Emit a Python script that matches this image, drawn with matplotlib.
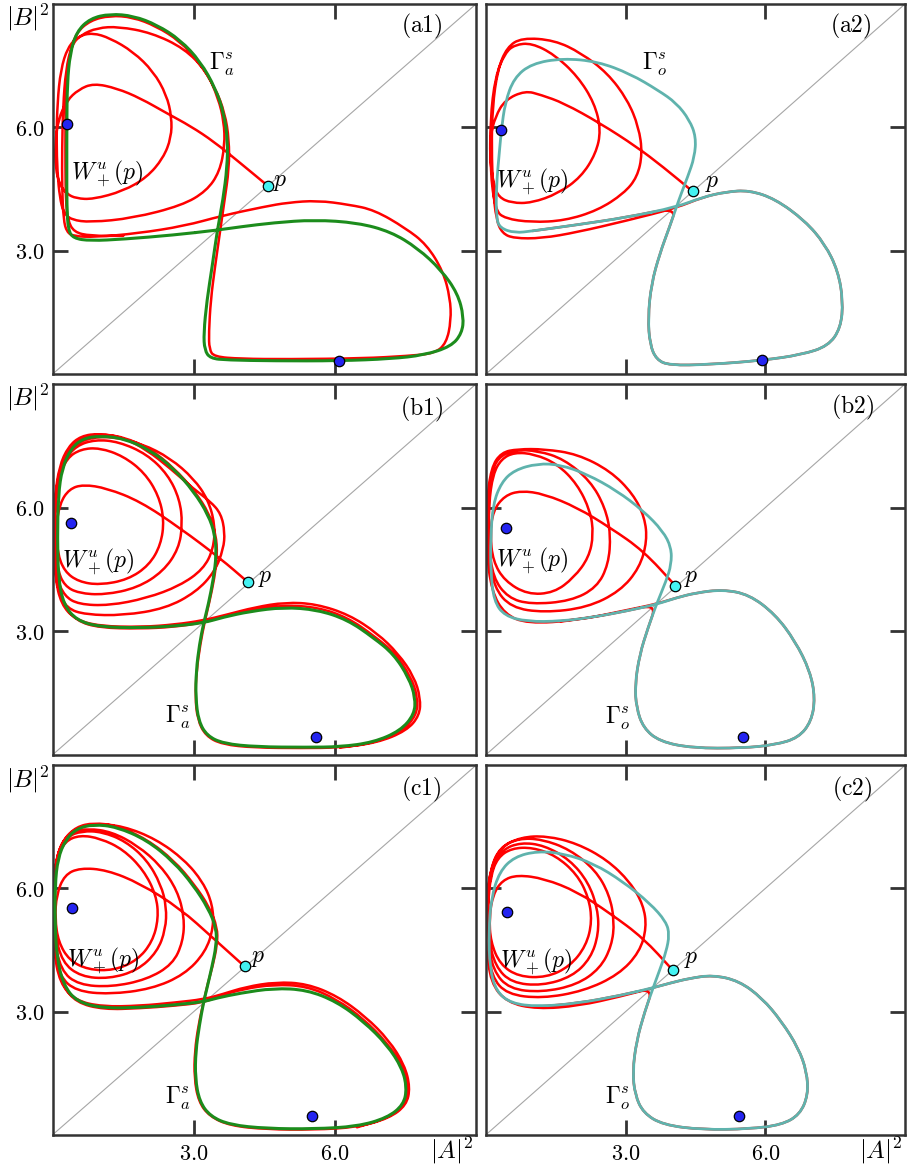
import numpy as np
import matplotlib
matplotlib.use('Agg')
import matplotlib.pyplot as plt
from matplotlib.path import Path
from matplotlib.patches import PathPatch

plt.rcParams['mathtext.fontset'] = 'cm'
plt.rcParams['font.family'] = 'serif'

# ---- data (|A|^2, |B|^2) ----
a1_p = (4.57, 4.58)
a1_eq = [(0.30, 6.08), (6.08, 0.32)]
a1_orbit = [(3.50, 3.50), (2.57, 3.38), (1.51, 3.28), (0.80, 3.24), (0.44, 3.30), (0.33, 3.50), (0.30, 4.07),
            (0.30, 5.04), (0.30, 6.08), (0.31, 7.07), (0.37, 7.80), (0.51, 8.33), (0.80, 8.65), (1.22, 8.76),
            (1.72, 8.71), (2.22, 8.49), (2.71, 8.13), (3.14, 7.60), (3.46, 6.95), (3.64, 6.34), (3.72, 5.69),
            (3.71, 5.04), (3.62, 4.23), (3.50, 3.50), (3.39, 2.61), (3.28, 1.80), (3.21, 0.99), (3.23, 0.58),
            (3.35, 0.38), (3.71, 0.34), (4.70, 0.32), (6.09, 0.32), (7.19, 0.37), (7.90, 0.46), (8.47, 0.67),
            (8.70, 0.99), (8.74, 1.39), (8.61, 1.96), (8.26, 2.53), (7.76, 3.06), (7.19, 3.46), (6.48, 3.68),
            (5.56, 3.75), (4.70, 3.68), (3.99, 3.58), (3.50, 3.50)]
a1_red = [(4.57, 4.58), (3.99, 5.13), (3.43, 5.65), (2.93, 6.03), (2.43, 6.34), (1.86, 6.71), (1.36, 6.95),
          (0.87, 7.07), (0.55, 6.92), (0.30, 6.65), (0.12, 6.20), (0.05, 5.60), (0.06, 5.00), (0.15, 4.60),
          (0.30, 4.38), (0.50, 4.27), (0.86, 4.25), (1.50, 4.45), (2.00, 4.78), (2.35, 5.25), (2.52, 5.75),
          (2.53, 6.25), (2.42, 6.79), (2.14, 7.36), (1.71, 7.84), (1.22, 8.17), (0.85, 8.30), (0.55, 8.22),
          (0.32, 7.95), (0.17, 7.40), (0.10, 6.60), (0.08, 5.70), (0.10, 4.90), (0.15, 4.30), (0.23, 3.92),
          (0.40, 3.75), (0.80, 3.69), (1.70, 3.79), (2.75, 4.10), (3.27, 4.45), (3.55, 4.92), (3.66, 5.57),
          (3.64, 6.14), (3.52, 6.71), (3.27, 7.36), (2.80, 7.92), (2.10, 8.30), (1.40, 8.45), (0.95, 8.42),
          (0.60, 8.25), (0.40, 8.00), (0.28, 7.40), (0.22, 6.50), (0.20, 5.50), (0.20, 4.50), (0.23, 3.75),
          (0.30, 3.45), (0.45, 3.35), (0.90, 3.33), (1.80, 3.42), (2.80, 3.60), (3.60, 3.85), (4.50, 4.07),
          (5.00, 4.17), (5.63, 4.22), (6.30, 4.12), (6.84, 3.99), (7.50, 3.55), (7.95, 3.15), (8.30, 2.50),
          (8.45, 1.85), (8.47, 1.30), (8.37, 0.75), (8.12, 0.50), (7.55, 0.44), (6.60, 0.38), (5.00, 0.36),
          (4.00, 0.37), (3.43, 0.42), (3.33, 0.60), (3.32, 1.00), (3.36, 1.80), (3.45, 2.60), (3.55, 3.40),
          (3.65, 4.20), (3.75, 5.00), (3.75, 5.70), (3.66, 6.35), (3.46, 6.95), (3.12, 7.58), (2.70, 8.10),
          (2.20, 8.46), (1.70, 8.68), (1.22, 8.72), (0.80, 8.60), (0.50, 8.30), (0.36, 7.80), (0.28, 7.00),
          (0.27, 6.00), (0.27, 5.00), (0.28, 4.20), (0.32, 3.75), (0.45, 3.45), (0.80, 3.36), (1.50, 3.36)]

a2_p = (4.44, 4.44)
a2_eq = [(0.33, 5.93), (5.93, 0.33)]
a2_orbit = [(4.09, 4.06), (3.02, 3.81), (1.96, 3.63), (1.00, 3.48), (0.62, 3.43), (0.30, 3.55), (0.22, 3.80),
            (0.22, 4.55), (0.29, 5.44), (0.33, 5.93), (0.41, 6.60), (0.60, 7.20), (0.98, 7.55), (1.65, 7.68),
            (2.40, 7.60), (3.10, 7.30), (3.70, 6.90), (4.09, 6.59), (4.37, 6.18), (4.51, 5.77), (4.48, 5.28),
            (4.33, 4.79), (4.19, 4.38), (4.09, 4.06), (3.94, 3.57), (3.73, 2.92), (3.55, 2.18), (3.48, 1.37),
            (3.52, 0.72), (3.66, 0.35), (3.94, 0.21), (4.79, 0.23), (5.93, 0.33), (6.78, 0.47), (7.35, 0.68),
            (7.62, 1.12), (7.67, 1.78), (7.56, 2.51), (7.28, 3.16), (6.85, 3.73), (6.21, 4.26), (5.65, 4.47),
            (5.15, 4.43), (4.65, 4.30), (4.09, 4.06)]
a2_red = [(4.44, 4.44), (3.80, 5.04), (3.23, 5.53), (2.45, 6.10), (1.67, 6.59), (1.18, 6.79), (0.84, 6.89),
          (0.41, 6.67), (0.20, 6.26), (0.09, 5.77), (0.09, 5.20), (0.16, 4.63), (0.27, 4.30), (0.55, 4.16),
          (0.98, 4.16), (1.55, 4.39), (2.04, 4.79), (2.36, 5.36), (2.47, 5.93), (2.33, 6.59), (1.97, 7.24),
          (1.47, 7.77), (0.98, 8.05), (0.62, 8.01), (0.41, 7.81), (0.20, 7.24), (0.09, 6.18), (0.09, 4.96),
          (0.20, 3.98), (0.41, 3.78), (0.98, 3.69), (1.69, 3.73), (2.40, 3.98), (2.96, 4.39), (3.25, 4.79),
          (3.36, 5.36), (3.28, 6.01), (3.04, 6.67), (2.61, 7.32), (2.04, 7.81), (1.47, 8.12), (0.77, 8.18),
          (0.45, 7.95), (0.25, 7.40), (0.14, 6.50), (0.12, 5.50), (0.15, 4.50), (0.22, 3.75), (0.35, 3.42),
          (0.60, 3.30), (1.20, 3.30), (1.96, 3.45), (3.02, 3.73), (4.09, 4.04), (4.65, 4.30), (5.15, 4.43),
          (5.65, 4.47), (6.21, 4.26), (6.85, 3.73), (7.28, 3.16), (7.56, 2.51), (7.67, 1.78), (7.62, 1.12),
          (7.35, 0.68), (6.78, 0.47), (5.93, 0.33), (4.79, 0.23), (3.94, 0.21), (3.66, 0.35), (3.52, 0.72),
          (3.48, 1.37), (3.55, 2.18), (3.73, 2.92), (3.94, 3.57), (4.09, 4.06), (3.02, 3.81), (1.96, 3.63),
          (1.00, 3.48)]

b1_p = (4.15, 4.19)
b1_eq = [(0.39, 5.62), (5.60, 0.44)]
b1_orbit = [(3.21, 3.20), (2.57, 3.12), (1.86, 3.08), (1.01, 3.10), (0.51, 3.26), (0.23, 3.65), (0.12, 4.29),
            (0.10, 5.26), (0.12, 6.31), (0.20, 6.95), (0.39, 7.44), (0.65, 7.68), (1.01, 7.74), (1.50, 7.68),
            (2.07, 7.40), (2.57, 6.95), (3.00, 6.39), (3.31, 5.82), (3.45, 5.34), (3.48, 4.85), (3.42, 4.29),
            (3.31, 3.65), (3.21, 3.20), (3.12, 2.68), (3.05, 2.03), (3.04, 1.39), (3.10, 0.82), (3.28, 0.46),
            (3.63, 0.27), (4.34, 0.19), (5.40, 0.18), (6.11, 0.19), (6.82, 0.30), (7.39, 0.58), (7.69, 0.98),
            (7.71, 1.39), (7.57, 1.87), (7.25, 2.44), (6.82, 2.84), (6.26, 3.28), (5.62, 3.52), (4.91, 3.58),
            (4.20, 3.48), (3.63, 3.34), (3.21, 3.20)]
b1_red = [(4.15, 4.19), (3.56, 4.77), (2.71, 5.50), (1.86, 6.15), (1.15, 6.47), (0.65, 6.56),
          (0.35, 6.45), (0.15, 6.10), (0.07, 5.50), (0.10, 4.90), (0.25, 4.45), (0.55, 4.20), (1.00, 4.12),
          (1.60, 4.25), (2.05, 4.60), (2.30, 5.10), (2.37, 5.70), (2.25, 6.30), (1.95, 6.85), (1.50, 7.25),
          (1.00, 7.45), (0.60, 7.42), (0.30, 7.20), (0.12, 6.70), (0.04, 6.00), (0.04, 5.20), (0.10, 4.50),
          (0.25, 4.10), (0.55, 3.92), (1.10, 3.88), (1.80, 4.05), (2.35, 4.45), (2.68, 5.00), (2.76, 5.60),
          (2.70, 6.20), (2.45, 6.80), (2.00, 7.30), (1.40, 7.60), (0.90, 7.65), (0.50, 7.50), (0.25, 7.15),
          (0.10, 6.60), (0.03, 5.80), (0.03, 5.00), (0.08, 4.30), (0.25, 3.85), (0.55, 3.65), (1.20, 3.62),
          (2.00, 3.80), (2.70, 4.10), (3.20, 4.50), (3.42, 5.00), (3.45, 5.60), (3.30, 6.20), (3.00, 6.70),
          (2.50, 7.20), (1.90, 7.55), (1.30, 7.72), (0.80, 7.70), (0.45, 7.52), (0.20, 7.10), (0.07, 6.50),
          (0.02, 5.70), (0.03, 4.80), (0.10, 4.00), (0.30, 3.55), (0.70, 3.40), (1.50, 3.38), (2.40, 3.55),
          (3.05, 3.95), (3.45, 4.45), (3.63, 5.00), (3.66, 5.40), (3.58, 5.85), (3.35, 6.15), (3.00, 6.45),
          (2.50, 6.95), (2.00, 7.40), (1.50, 7.70), (1.00, 7.80), (0.60, 7.74), (0.33, 7.48), (0.14, 7.00),
          (0.05, 6.30), (0.02, 5.30), (0.05, 4.30), (0.18, 3.65), (0.48, 3.28), (1.00, 3.12), (1.90, 3.10),
          (2.60, 3.16), (3.20, 3.26), (3.70, 3.40), (4.30, 3.58), (4.95, 3.70), (5.60, 3.66), (6.30, 3.40),
          (6.90, 2.95), (7.35, 2.45), (7.68, 1.90), (7.82, 1.38), (7.80, 0.95), (7.52, 0.58), (6.90, 0.29),
          (6.10, 0.17), (5.30, 0.16), (4.30, 0.17), (3.60, 0.25), (3.25, 0.46), (3.08, 0.85), (3.03, 1.40),
          (3.06, 2.05), (3.14, 2.70), (3.23, 3.22), (3.33, 3.70), (3.44, 4.30), (3.50, 4.85), (3.47, 5.35),
          (3.33, 5.85), (3.02, 6.40), (2.58, 6.96), (2.08, 7.42), (1.50, 7.72), (1.00, 7.78), (0.63, 7.72),
          (0.36, 7.46), (0.16, 6.98), (0.07, 6.30), (0.04, 5.26), (0.08, 4.29), (0.22, 3.66), (0.50, 3.25),
          (1.00, 3.08), (1.86, 3.06), (2.57, 3.10), (3.21, 3.21), (3.65, 3.36), (4.22, 3.53), (4.92, 3.63),
          (5.63, 3.58), (6.27, 3.33), (6.84, 2.88), (7.28, 2.46), (7.62, 1.88), (7.76, 1.39), (7.74, 0.97),
          (7.44, 0.58), (6.84, 0.29), (6.11, 0.17)]

b2_p = (4.07, 4.10)
b2_eq = [(0.42, 5.51), (5.52, 0.43)]
b2_orbit = [(3.66, 3.65), (3.02, 3.49), (2.31, 3.34), (1.60, 3.24), (0.89, 3.23), (0.40, 3.37), (0.17, 3.73),
            (0.10, 4.46), (0.10, 5.27), (0.15, 6.08), (0.33, 6.61), (0.61, 6.91), (1.11, 7.07), (1.60, 7.04),
            (2.17, 6.81), (2.81, 6.41), (3.38, 5.92), (3.80, 5.43), (3.98, 5.03), (3.98, 4.62), (3.87, 4.22),
            (3.66, 3.65), (3.48, 3.08), (3.30, 2.43), (3.20, 1.70), (3.23, 1.14), (3.38, 0.65), (3.73, 0.32),
            (4.44, 0.16), (5.50, 0.16), (6.21, 0.24), (6.71, 0.41), (6.99, 0.81), (7.07, 1.38), (6.96, 2.03),
            (6.64, 2.76), (6.21, 3.41), (5.65, 3.89), (5.08, 4.01), (4.51, 3.93), (4.09, 3.81), (3.66, 3.65)]
b2_red = [(4.07, 4.10), (3.38, 4.95), (2.67, 5.51), (1.96, 6.00), (1.25, 6.33), (0.75, 6.41),
          (0.40, 6.29), (0.15, 5.92), (0.09, 5.35), (0.15, 4.70), (0.40, 4.22), (0.89, 3.89), (1.46, 3.93),
          (1.89, 4.30), (2.21, 4.79), (2.31, 5.35), (2.24, 5.92), (1.96, 6.57), (1.53, 7.06), (1.04, 7.30),
          (0.61, 7.34), (0.33, 7.18), (0.15, 6.81), (0.06, 6.08), (0.06, 5.11), (0.15, 4.30), (0.47, 3.81),
          (0.96, 3.65), (1.82, 3.73), (2.38, 4.06), (2.63, 4.62), (2.68, 5.35), (2.56, 6.00), (2.24, 6.65),
          (1.67, 7.18), (1.11, 7.38), (0.61, 7.40), (0.26, 7.22), (0.11, 6.81), (0.03, 5.92), (0.04, 4.95),
          (0.17, 4.06), (0.54, 3.57), (1.25, 3.45), (2.17, 3.57), (2.88, 3.97), (3.30, 4.54), (3.46, 5.19),
          (3.41, 5.76), (3.16, 6.33), (2.67, 6.89), (1.96, 7.30), (1.25, 7.42), (0.68, 7.42), (0.33, 7.34),
          (0.11, 6.97), (0.01, 6.08), (0.01, 4.95), (0.12, 3.97), (0.40, 3.41), (0.89, 3.18), (1.96, 3.26),
          (3.02, 3.51), (3.66, 3.66), (4.09, 3.81), (4.51, 3.93), (5.08, 4.01), (5.65, 3.89), (6.21, 3.41),
          (6.64, 2.76), (6.96, 2.03), (7.07, 1.38), (6.99, 0.81), (6.71, 0.41), (6.21, 0.24), (5.50, 0.16),
          (4.44, 0.16), (3.73, 0.32), (3.38, 0.65), (3.23, 1.14), (3.20, 1.70), (3.30, 2.43), (3.48, 3.08),
          (3.66, 3.65), (3.02, 3.49), (2.31, 3.34), (1.60, 3.24)]

c1_p = (4.08, 4.10)
c1_eq = [(0.42, 5.53), (5.52, 0.45)]
c1_orbit = [(3.21, 3.24), (2.57, 3.16), (1.86, 3.10), (1.08, 3.08), (0.51, 3.24), (0.23, 3.65), (0.09, 4.30),
            (0.05, 5.11), (0.05, 6.08), (0.11, 6.73), (0.27, 7.18), (0.51, 7.46), (0.87, 7.56), (1.36, 7.50),
            (2.00, 7.18), (2.57, 6.65), (2.99, 6.08), (3.31, 5.51), (3.48, 5.03), (3.48, 4.62), (3.38, 4.06),
            (3.28, 3.57), (3.21, 3.24), (3.12, 2.68), (3.04, 2.03), (3.03, 1.38), (3.12, 0.81), (3.35, 0.45),
            (3.77, 0.24), (4.55, 0.15), (5.55, 0.14), (6.47, 0.20), (7.11, 0.41), (7.46, 0.73), (7.53, 1.14),
            (7.43, 1.62), (7.11, 2.19), (6.61, 2.76), (6.04, 3.24), (5.40, 3.53), (4.70, 3.57), (3.99, 3.45),
            (3.49, 3.33), (3.21, 3.24)]
c1_red = [(4.08, 4.10), (3.42, 4.78), (2.71, 5.51), (1.86, 6.12), (1.15, 6.45), (0.58, 6.50),
          (0.25, 6.33), (0.08, 5.84), (0.05, 5.27), (0.12, 4.70), (0.35, 4.25), (0.75, 4.02), (1.30, 4.00),
          (1.80, 4.25), (2.12, 4.70), (2.25, 5.27), (2.20, 5.84), (1.93, 6.45), (1.50, 6.95), (1.01, 7.22),
          (0.58, 7.30), (0.26, 7.15), (0.09, 6.73), (0.02, 5.92), (0.04, 4.95), (0.20, 4.20), (0.60, 3.85),
          (1.20, 3.80), (1.80, 4.00), (2.22, 4.45), (2.40, 5.00), (2.42, 5.55), (2.30, 6.10), (2.00, 6.70),
          (1.55, 7.15), (1.05, 7.38), (0.62, 7.40), (0.30, 7.26), (0.09, 6.81), (0.01, 5.92), (0.02, 4.87),
          (0.17, 4.00), (0.55, 3.65), (1.25, 3.60), (2.00, 3.78), (2.55, 4.15), (2.77, 4.70), (2.80, 5.30),
          (2.65, 5.95), (2.30, 6.55), (1.80, 7.05), (1.25, 7.38), (0.75, 7.46), (0.40, 7.38), (0.15, 7.05),
          (0.03, 6.40), (0.00, 5.50), (0.02, 4.60), (0.15, 3.85), (0.50, 3.50), (1.20, 3.42), (2.10, 3.55),
          (2.80, 3.90), (3.25, 4.45), (3.42, 5.05), (3.40, 5.60), (3.20, 6.15), (2.80, 6.70), (2.20, 7.20),
          (1.50, 7.52), (0.90, 7.58), (0.45, 7.45), (0.18, 7.12), (0.04, 6.50), (0.00, 5.50), (0.02, 4.50),
          (0.15, 3.70), (0.48, 3.27), (1.05, 3.12), (1.86, 3.14), (2.60, 3.22), (3.21, 3.30), (3.60, 3.42),
          (4.10, 3.60), (4.75, 3.72), (5.40, 3.68), (6.05, 3.38), (6.65, 2.88), (7.15, 2.30), (7.48, 1.70),
          (7.60, 1.15), (7.52, 0.72), (7.15, 0.40), (6.47, 0.18), (5.55, 0.12), (4.55, 0.13), (3.77, 0.22),
          (3.33, 0.45), (3.10, 0.81), (3.01, 1.38), (3.02, 2.03), (3.10, 2.68), (3.21, 3.24), (3.30, 3.70),
          (3.40, 4.10), (3.50, 4.65), (3.50, 5.05), (3.33, 5.55), (3.01, 6.10), (2.58, 6.68), (2.00, 7.20),
          (1.36, 7.53), (0.87, 7.60), (0.50, 7.50), (0.24, 7.20), (0.08, 6.75), (0.01, 6.08), (0.01, 5.11),
          (0.07, 4.30), (0.21, 3.64), (0.50, 3.22), (1.08, 3.05), (1.86, 3.08), (2.57, 3.14), (3.21, 3.22),
          (3.55, 3.38), (4.05, 3.55), (4.70, 3.66), (5.40, 3.62), (6.04, 3.30), (6.61, 2.82), (7.11, 2.24),
          (7.45, 1.66), (7.56, 1.14), (7.48, 0.72), (7.11, 0.40), (6.47, 0.18)]

c2_p = (4.01, 4.01)
c2_eq = [(0.45, 5.43), (5.43, 0.45)]
c2_orbit = [(3.59, 3.58), (2.88, 3.39), (1.96, 3.20), (1.11, 3.12), (0.54, 3.20), (0.22, 3.49), (0.08, 4.06),
            (0.06, 4.95), (0.11, 5.76), (0.29, 6.41), (0.61, 6.77), (1.11, 6.91), (1.67, 6.85), (2.31, 6.61),
            (2.95, 6.16), (3.52, 5.64), (3.87, 5.19), (3.94, 4.87), (3.87, 4.46), (3.73, 4.01), (3.59, 3.58),
            (3.41, 3.00), (3.23, 2.27), (3.15, 1.54), (3.20, 0.97), (3.38, 0.53), (3.80, 0.24), (4.65, 0.12),
            (5.65, 0.14), (6.35, 0.24), (6.74, 0.49), (6.92, 0.97), (6.89, 1.54), (6.71, 2.11), (6.35, 2.76),
            (5.93, 3.33), (5.43, 3.75), (4.87, 3.89), (4.37, 3.81), (3.94, 3.69), (3.59, 3.58)]
c2_red = [(4.01, 4.01), (3.38, 4.79), (2.67, 5.39), (1.96, 5.92), (1.25, 6.24), (0.68, 6.33),
          (0.35, 6.20), (0.15, 5.85), (0.07, 5.30), (0.10, 4.70), (0.30, 4.15), (0.70, 3.85), (1.30, 3.83),
          (1.80, 4.10), (2.15, 4.60), (2.28, 5.20), (2.20, 5.80), (1.95, 6.35), (1.50, 6.80), (1.00, 7.00),
          (0.55, 6.98), (0.25, 6.75), (0.10, 6.30), (0.04, 5.60), (0.05, 4.80), (0.20, 4.10), (0.55, 3.70),
          (1.20, 3.63), (1.85, 3.85), (2.25, 4.30), (2.42, 4.90), (2.40, 5.50), (2.20, 6.15), (1.80, 6.70),
          (1.25, 7.05), (0.75, 7.12), (0.35, 6.95), (0.12, 6.50), (0.03, 5.70), (0.03, 4.80), (0.15, 4.00),
          (0.50, 3.55), (1.20, 3.47), (1.95, 3.65), (2.45, 4.05), (2.70, 4.60), (2.76, 5.20), (2.65, 5.85),
          (2.35, 6.45), (1.80, 6.95), (1.20, 7.20), (0.70, 7.22), (0.30, 7.00), (0.10, 6.50), (0.02, 5.70),
          (0.02, 4.70), (0.12, 3.85), (0.45, 3.42), (1.20, 3.32), (2.10, 3.50), (2.85, 3.90), (3.30, 4.45),
          (3.45, 5.05), (3.38, 5.60), (3.10, 6.15), (2.60, 6.70), (1.95, 7.10), (1.30, 7.28), (0.75, 7.25),
          (0.30, 7.00), (0.08, 6.40), (0.01, 5.60), (0.01, 4.60), (0.10, 3.70), (0.45, 3.22), (1.10, 3.06),
          (2.00, 3.14), (2.90, 3.37), (3.59, 3.58), (3.94, 3.69), (4.37, 3.81), (4.87, 3.89), (5.43, 3.75),
          (5.93, 3.33), (6.35, 2.76), (6.71, 2.11), (6.89, 1.54), (6.92, 0.97), (6.74, 0.49), (6.35, 0.24),
          (5.65, 0.14), (4.65, 0.12), (3.80, 0.24), (3.38, 0.53), (3.20, 0.97), (3.15, 1.54), (3.23, 2.27),
          (3.41, 3.00), (3.59, 3.58), (2.88, 3.39), (1.96, 3.20), (1.11, 3.12)]

ticks = [3.0, 6.0]
tick_labels = ['$3.0$', '$6.0$']

# label positions (data coords) per panel
panels = {
    'a1': dict(red=a1_red, orbit=a1_orbit, p=a1_p, eq=a1_eq, kind='a',
               lab=(7.85, 8.45), gam=(3.60, 7.52), w=(1.15, 4.88), plab=(4.83, 4.68)),
    'a2': dict(red=a2_red, orbit=a2_orbit, p=a2_p, eq=a2_eq, kind='o',
               lab=(7.84, 8.46), gam=(3.62, 7.52), w=(1.00, 4.67), plab=(4.87, 4.67)),
    'b1': dict(red=b1_red, orbit=b1_orbit, p=b1_p, eq=b1_eq, kind='a',
               lab=(7.85, 8.39), gam=(2.67, 0.90), w=(0.97, 4.69), plab=(4.52, 4.31)),
    'b2': dict(red=b2_red, orbit=b2_orbit, p=b2_p, eq=b2_eq, kind='o',
               lab=(7.87, 8.42), gam=(2.84, 0.89), w=(1.00, 4.70), plab=(4.40, 4.31)),
    'c1': dict(red=c1_red, orbit=c1_orbit, p=c1_p, eq=c1_eq, kind='a',
               lab=(7.84, 8.42), gam=(2.67, 0.88), w=(1.08, 4.24), plab=(4.38, 4.31)),
    'c2': dict(red=c2_red, orbit=c2_orbit, p=c2_p, eq=c2_eq, kind='o',
               lab=(7.87, 8.42), gam=(2.84, 0.88), w=(1.07, 4.22), plab=(4.40, 4.30)),
}


def smooth_curve(ax, pts, color, lw, z):
    # quadratic bezier through the midpoints, read points act as control points
    pts = np.asarray(pts, dtype=float)
    closed = np.allclose(pts[0], pts[-1])
    if closed:
        pts = pts[:-1]
        n = len(pts)
        mid = lambda k: (pts[k % n] + pts[(k + 1) % n]) / 2
        verts = [mid(0)]
        codes = [Path.MOVETO]
        for k in range(1, n + 1):
            verts += [pts[k % n], mid(k)]
            codes += [Path.CURVE3, Path.CURVE3]
    else:
        mids = (pts[:-1] + pts[1:]) / 2
        verts = [pts[0], mids[0]]
        codes = [Path.MOVETO, Path.LINETO]
        for k in range(1, len(pts) - 1):
            verts += [pts[k], mids[k]]
            codes += [Path.CURVE3, Path.CURVE3]
        verts.append(pts[-1])
        codes.append(Path.LINETO)
    patch = PathPatch(Path(verts, codes), fill=False, edgecolor=color, lw=lw,
                      capstyle='round', joinstyle='round', zorder=z)
    ax.add_patch(patch)


W, H = 907, 1167
fig = plt.figure(figsize=(W / 100, H / 100), dpi=100)

cols = [(52.7, 476), (486, 905)]
rows = [(4, 374), (384, 754.7), (765.3, 1134.7)]

for i, row in enumerate('abc'):
    for j in range(2):
        name = row + str(j + 1)
        d = panels[name]
        l, r = cols[j]
        t, b = rows[i]
        ax = fig.add_axes([l / W, 1 - b / H, (r - l) / W, (b - t) / H])
        ax.set_xlim(0, 9)
        ax.set_ylim(0, 9)

        ax.plot([0, 9], [0, 9], color='#a6a6a6', lw=0.8, zorder=1)
        smooth_curve(ax, d['red'], '#ff0000', 1.8, 2)
        if d['kind'] == 'a':
            smooth_curve(ax, d['orbit'], '#1c8c1c', 2.2, 3)
            gtxt = r'$\Gamma_a^s$'
        else:
            smooth_curve(ax, d['orbit'], '#5fb3ad', 2.0, 3)
            gtxt = r'$\Gamma_o^s$'

        ex, ey = zip(*d['eq'])
        ax.plot(ex, ey, 'o', ms=7.5, mfc='#2424f0', mec='black', mew=0.9, zorder=5)
        ax.plot([d['p'][0]], [d['p'][1]], 'o', ms=7.5, mfc='#44f2f2', mec='black', mew=0.9, zorder=5)

        ax.text(*d['lab'], r'$\mathrm{(' + name + ')}$', fontsize=17, ha='center', va='center')
        ax.text(*d['gam'], gtxt, fontsize=17, ha='center', va='center')
        ax.text(*d['w'], r'$W^u_+(p)$', fontsize=17, ha='center', va='center')
        ax.text(*d['plab'], r'$p$', fontsize=17, ha='center', va='center')

        ax.set_xticks(ticks)
        ax.set_yticks(ticks)
        ax.set_xticklabels(tick_labels, fontsize=16)
        ax.set_yticklabels(tick_labels, fontsize=16)
        ax.tick_params(direction='in', length=11, width=2.0, color='#333333',
                       top=True, right=True, pad=6,
                       labelleft=(j == 0), labelbottom=(i == 2))
        for s in ax.spines.values():
            s.set_linewidth(1.8)
            s.set_color('#333333')

        if j == 0:
            fig.text(28 / W, 1 - (t + 14) / H, r'$|B|^2$', fontsize=18, ha='center', va='center')
        if i == 2:
            fig.text((r - 24) / W, 1 - 1151 / H, r'$|A|^2$', fontsize=18, ha='center', va='center')

fig.savefig('out.png', dpi=100)
